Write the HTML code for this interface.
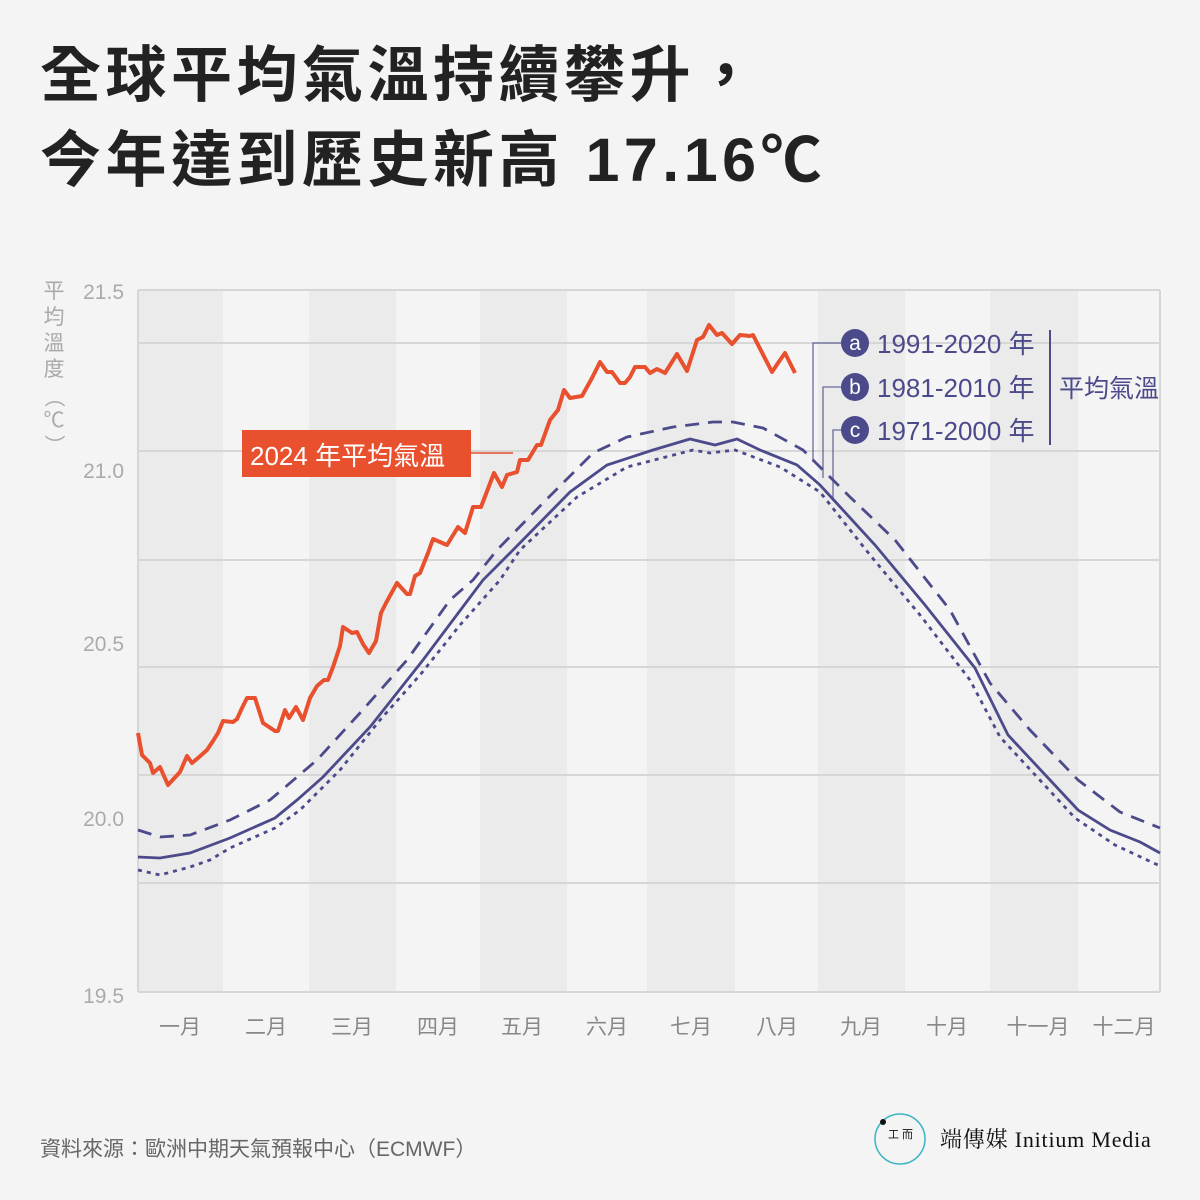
<!DOCTYPE html>
<html><head><meta charset="utf-8"><style>
body{margin:0;background:#f4f4f4;}
svg{display:block}
text{font-family:"Liberation Sans","Noto Sans CJK TC",sans-serif}
</style></head><body>
<svg width="1200" height="1200" viewBox="0 0 1200 1200">
<rect width="1200" height="1200" fill="#f4f4f4"/>
<text x="40" y="96" font-size="61" font-weight="bold" fill="#222" letter-spacing="4.5">全球平均氣溫持續攀升，</text>
<text x="40" y="181" font-size="61" font-weight="bold" fill="#222" letter-spacing="4.5">今年達到歷史新高 17.16℃</text>
<g fill="#ebebeb">
<rect x="138" y="290" width="85" height="702"/>
<rect x="309" y="290" width="87" height="702"/>
<rect x="480" y="290" width="87" height="702"/>
<rect x="647" y="290" width="88" height="702"/>
<rect x="818" y="290" width="87" height="702"/>
<rect x="990" y="290" width="88" height="702"/>
</g>
<g stroke="#d6d6d6" stroke-width="2">
<line x1="138" y1="290" x2="1160" y2="290"/>
<line x1="138" y1="343" x2="1160" y2="343"/>
<line x1="138" y1="451" x2="1160" y2="451"/>
<line x1="138" y1="560" x2="1160" y2="560"/>
<line x1="138" y1="667" x2="1160" y2="667"/>
<line x1="138" y1="775" x2="1160" y2="775"/>
<line x1="138" y1="883" x2="1160" y2="883"/>
<line x1="138" y1="992" x2="1160" y2="992"/>
<line x1="138" y1="290" x2="138" y2="992"/>
<line x1="1160" y1="290" x2="1160" y2="992"/>
</g>
<g font-size="21" fill="#aaa" text-anchor="end">
<text x="124" y="299">21.5</text>
<text x="124" y="478">21.0</text>
<text x="124" y="651">20.5</text>
<text x="124" y="826">20.0</text>
<text x="124" y="1003">19.5</text>
</g>
<g font-size="21" fill="#aaa" text-anchor="middle">
<text x="54" y="298">平</text><text x="54" y="324">均</text><text x="54" y="350">溫</text><text x="54" y="376">度</text>
<text x="54" y="404" transform="rotate(90 54 397)">（</text>
<text x="54" y="427">℃</text>
<text x="54" y="452" transform="rotate(90 54 445)">）</text>
</g>
<g font-size="21" fill="#888" text-anchor="middle">
<text x="180" y="1034">一月</text><text x="266" y="1034">二月</text><text x="352" y="1034">三月</text>
<text x="438" y="1034">四月</text><text x="522" y="1034">五月</text><text x="607" y="1034">六月</text>
<text x="691" y="1034">七月</text><text x="777" y="1034">八月</text><text x="861" y="1034">九月</text>
<text x="947" y="1034">十月</text><text x="1038" y="1034">十一月</text><text x="1124" y="1034">十二月</text>
</g>
<g fill="none" stroke="#4b4a8a" stroke-width="2.8">
<polyline stroke-dasharray="14,9" points="138,830 160,837 190,835 230,820 270,800 317,760 360,713 407,660 450,600 473,580 497,550 543,503 593,453 627,437 673,427 713,422 733,422 763,428 803,450 850,497 895,540 950,610 990,683 1030,730 1078,780 1120,812 1160,828"/>
<polyline points="138,857 160,858 190,853 230,838 275,818 297,800 323,777 370,727 423,660 453,620 483,580 513,550 570,492 607,465 653,450 690,439 715,445 737,439 760,450 797,465 820,485 875,545 925,605 975,668 1008,735 1078,810 1110,830 1140,842 1160,853"/>
<polyline stroke-dasharray="4,5" points="138,870 160,875 190,867 210,860 230,848 275,828 300,810 340,770 380,720 420,675 460,625 500,580 520,550 577,497 627,467 693,450 710,453 735,450 780,467 820,492 870,555 920,615 970,680 1000,737 1075,818 1115,845 1160,866"/>
</g>
<polyline fill="none" stroke="#e8502e" stroke-width="4" stroke-linejoin="round" points="138,733 142,755 150,763 153,773 160,767 168,785 180,772 187,756 192,763 198,758 207,750 213,741 218,733 223,721 233,722 237,719 242,708 247,698 255,698 263,723 275,731 278,731 285,710 289,718 296,707 303,720 310,698 317,686 324,680 328,680 333,667 340,646 343,627 352,633 357,632 363,644 369,653 376,641 381,613 386,603 397,583 407,594 410,594 415,576 420,573 428,553 433,539 447,545 458,527 465,533 473,507 481,507 494,473 502,487 507,475 517,472 520,460 528,460 537,445 541,445 550,420 558,410 564,390 570,398 582,396 592,378 600,362 607,372 612,372 620,383 625,383 630,377 635,367 645,367 650,373 657,369 665,373 677,354 687,371 697,340 703,337 709,325 717,335 722,333 732,344 740,335 750,336 753,335 772,372 778,363 785,353 795,373"/>
<line x1="471" y1="453" x2="513" y2="453" stroke="#e8502e" stroke-width="1.5"/>
<rect x="242" y="430" width="229" height="47" fill="#e8502e"/>
<text x="250" y="465" font-size="26" fill="#fff">2024 年平均氣溫</text>
<g fill="none" stroke="#4b4a8a" stroke-width="1.3" opacity="0.8">
<polyline points="842,343 813,343 813,462"/>
<polyline points="842,387 823,387 823,478"/>
<polyline points="842,430 833,430 833,500"/>
</g>
<line x1="1050" y1="330" x2="1050" y2="445" stroke="#4b4a8a" stroke-width="2"/>
<g fill="#4b4a8a">
<circle cx="855" cy="343" r="14"/><circle cx="855" cy="387" r="14"/><circle cx="855" cy="430" r="14"/>
</g>
<g fill="#fff" font-size="21" text-anchor="middle">
<text x="855" y="350">a</text><text x="855" y="394">b</text><text x="855" y="437">c</text>
</g>
<g fill="#4b4a8a" font-size="26">
<text x="877" y="353">1991-2020 年</text>
<text x="877" y="397">1981-2010 年</text>
<text x="877" y="440">1971-2000 年</text>
<text x="1059" y="397" font-size="25">平均氣溫</text>
</g>
<text x="40" y="1156" font-size="21" fill="#666">資料來源：歐洲中期天氣預報中心（ECMWF）</text>
<circle cx="900" cy="1139" r="25" fill="none" stroke="#3ab5c6" stroke-width="1.5"/>
<circle cx="883" cy="1122" r="3" fill="#111"/>
<text x="888" y="1138" font-size="11" fill="#111">工 而</text>
<text x="940" y="1147" fill="#111" style="font-family:'Liberation Serif','Noto Serif CJK SC',serif;font-size:22px;letter-spacing:0.8px">端傳媒 Initium Media</text>
</svg>
</body></html>
